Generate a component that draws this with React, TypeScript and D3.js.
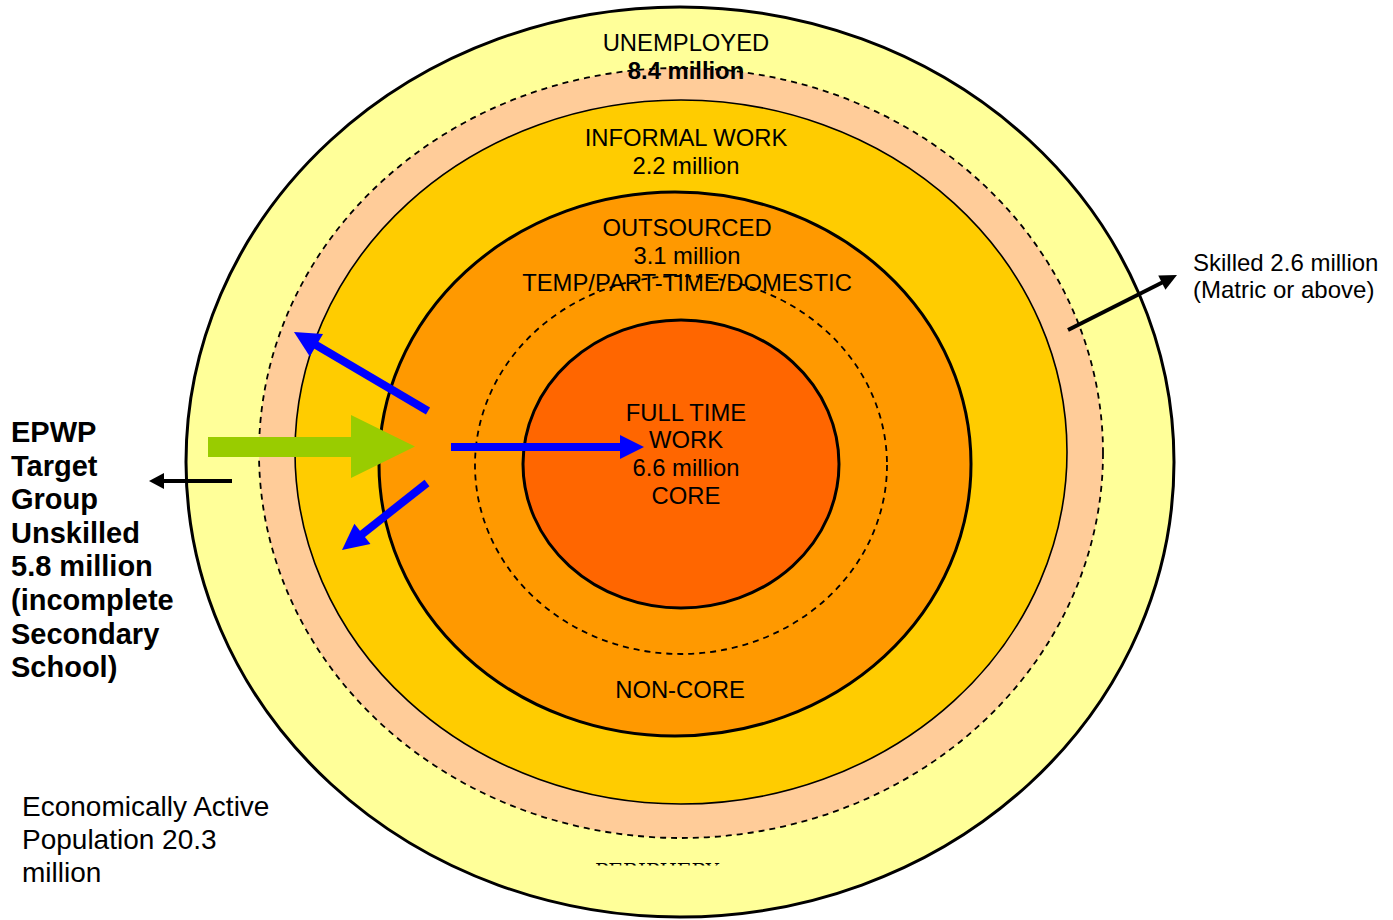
import React from "react";
import * as d3 from "d3";

// ---- data ----
const ringNames = ["UNEMPLOYED", "INFORMAL WORK", "OUTSOURCED", "FULL TIME WORK"];
const ringMillions = [8.4, 2.2, 3.1, 6.6];
const skilledMillions = 2.6;
const unskilledMillions = 5.8;
const activeMillions = 20.3;

// ---- layout ----
const W = 1393;
const H = 920;
const FONT = "Liberation Sans, Arial, Helvetica, sans-serif";

type Ell = { cx: number; cy: number; rx: number; ry: number; fill: string; sw: number; dash?: string };
const ellipses: Ell[] = [
  { cx: 680, cy: 462, rx: 494, ry: 455, fill: "#FFFF99", sw: 3 },
  { cx: 681, cy: 453, rx: 422, ry: 385, fill: "#FFCC99", sw: 1.8, dash: "6,5" },
  { cx: 681, cy: 452, rx: 386, ry: 352, fill: "#FFCC00", sw: 1.6 },
  { cx: 675, cy: 464, rx: 296, ry: 272, fill: "#FF9900", sw: 3 },
  { cx: 681, cy: 465, rx: 206, ry: 189, fill: "none", sw: 1.8, dash: "6,5" },
  { cx: 681, cy: 464, rx: 158, ry: 144, fill: "#FF6600", sw: 3 },
];

const lineGen = d3.line<[number, number]>();

function Arrow({ x1, y1, x2, y2, w, head, headW, color }: { x1: number; y1: number; x2: number; y2: number; w: number; head: number; headW: number; color: string }) {
  const dx = x2 - x1, dy = y2 - y1;
  const L = Math.hypot(dx, dy);
  const ux = dx / L, uy = dy / L;
  const px = -uy, py = ux;
  const bx = x2 - ux * head, by = y2 - uy * head;
  const headPts: [number, number][] = [
    [x2, y2],
    [bx + px * headW, by + py * headW],
    [bx - px * headW, by - py * headW],
  ];
  return (
    <g>
      <path d={lineGen([[x1, y1], [bx + ux * 1, by + uy * 1]]) || ""} stroke={color} strokeWidth={w} fill="none" />
      <path d={(lineGen(headPts) || "") + "Z"} fill={color} />
    </g>
  );
}

export default function App() {
  const fmt = (v: number) => `${v} million`;
  const lab = { fontFamily: FONT, fontSize: 23.8, fill: "#000", textAnchor: "middle" as const };
  return (
    <svg width={W} height={H} style={{ position: "absolute", left: 0, top: 0 }}>
      <defs>
        <clipPath id="peri">
          <rect x={500} y={840} width={300} height={25.5} />
        </clipPath>
      </defs>
      <rect width={W} height={H} fill="#fff" />
      {ellipses.map((e, i) => (
        <ellipse key={i} cx={e.cx} cy={e.cy} rx={e.rx} ry={e.ry} fill={e.fill} stroke="#000" strokeWidth={e.sw} strokeDasharray={e.dash} />
      ))}

      {/* ring labels */}
      <text {...lab} x={686} y={51}>{ringNames[0]}</text>
      <text {...lab} x={686} y={79} fontWeight="bold">{fmt(ringMillions[0])}</text>
      <text {...lab} x={686} y={146}>{ringNames[1]}</text>
      <text {...lab} x={686} y={174}>{fmt(ringMillions[1])}</text>
      <text {...lab} x={687} y={236}>{ringNames[2]}</text>
      <text {...lab} x={687} y={264}>{fmt(ringMillions[2])}</text>
      <text {...lab} x={687} y={291}>TEMP/PART-TIME/DOMESTIC</text>
      <text {...lab} x={686} y={421}>FULL TIME</text>
      <text {...lab} x={686} y={448}>WORK</text>
      <text {...lab} x={686} y={476}>{fmt(ringMillions[3])}</text>
      <text {...lab} x={686} y={504}>CORE</text>
      <text {...lab} x={680} y={698}>NON-CORE</text>

      <g clipPath="url(#peri)">
        <text x={657} y={878} fontFamily="DejaVu Serif, Liberation Serif, serif" fontSize={20} textAnchor="middle" fill="#000">PERIPHERY</text>
      </g>

      {/* green arrow */}
      <path d={(lineGen([[208, 437], [351, 437], [351, 415], [415, 446.5], [351, 478], [351, 457], [208, 457]]) || "") + "Z"} fill="#99CC00" />

      {/* blue arrows */}
      <Arrow x1={451} y1={447} x2={644} y2={447} w={8} head={24} headW={12} color="#0000FF" />
      <Arrow x1={428} y1={411} x2={294} y2={332} w={8} head={26} headW={13} color="#0000FF" />
      <Arrow x1={427} y1={483} x2={342} y2={550} w={8} head={26} headW={13} color="#0000FF" />

      {/* black arrows */}
      <Arrow x1={232} y1={481} x2={149} y2={481} w={4} head={15} headW={8} color="#000" />
      <Arrow x1={1068} y1={330} x2={1177} y2={275} w={4} head={17} headW={8} color="#000" />

      {/* side labels */}
      <text fontFamily={FONT} fontSize={24} x={1193} y={271}>{`Skilled ${skilledMillions} million`}</text>
      <text fontFamily={FONT} fontSize={24} x={1193} y={298}>(Matric or above)</text>

      {["EPWP", "Target", "Group", "Unskilled", `${unskilledMillions} million`, "(incomplete", "Secondary", "School)"].map((t, i) => (
        <text key={t} fontFamily={FONT} fontWeight="bold" fontSize={29} x={11} y={442 + i * 33.6}>{t}</text>
      ))}

      {["Economically Active", `Population ${activeMillions}`, "million"].map((t, i) => (
        <text key={t} fontFamily={FONT} fontSize={28} x={22} y={816 + i * 33}>{t}</text>
      ))}
    </svg>
  );
}
